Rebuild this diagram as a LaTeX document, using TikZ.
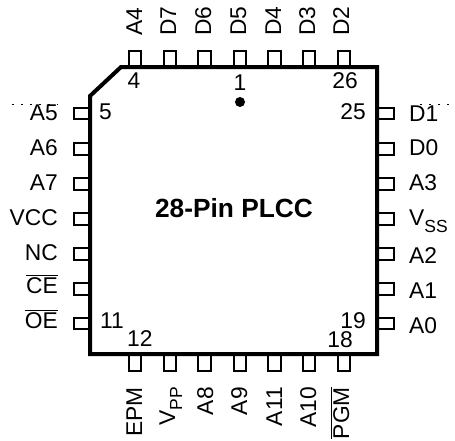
\documentclass[tikz,border=0pt]{standalone}
\usepackage{fontspec}
\setmainfont{Liberation Sans}
\newcommand{\pinsub}[1]{\raisebox{-7pt}{\fontsize{17.5}{17.5}\selectfont #1}}
\tikzset{
  pinbox/.style={draw, line width=2.1pt, fill=white},
  pinlabel/.style={inner sep=0pt, font=\fontsize{22.8}{23}\selectfont},
  vertlabel/.style={pinlabel, rotate=90},
}
\begin{document}
\begin{tikzpicture}[x=1pt, y=-1pt]
    \useasboundingbox (0,0) rectangle (455,440);

    % Pins, top:
    \draw[pinbox] (129,51) rectangle (141,67);
    \draw[pinbox] (164,51) rectangle (176,67);
    \draw[pinbox] (198,51) rectangle (211,67);
    \draw[pinbox] (234,51) rectangle (246,67);
    \draw[pinbox] (268,51) rectangle (281,67);
    \draw[pinbox] (303,51) rectangle (315,67);
    \draw[pinbox] (338,51) rectangle (350,67);
    % Pins, bottom:
    \draw[pinbox] (129,354) rectangle (141,371);
    \draw[pinbox] (164,354) rectangle (176,371);
    \draw[pinbox] (198,354) rectangle (211,371);
    \draw[pinbox] (234,354) rectangle (246,371);
    \draw[pinbox] (268,354) rectangle (281,371);
    \draw[pinbox] (303,354) rectangle (315,371);
    \draw[pinbox] (338,354) rectangle (350,371);
    % Pins, left:
    \draw[pinbox] (74,108) rectangle (90,119);
    \draw[pinbox] (74,143) rectangle (90,155);
    \draw[pinbox] (74,178) rectangle (90,190);
    \draw[pinbox] (74,213) rectangle (90,225);
    \draw[pinbox] (74,248) rectangle (90,260);
    \draw[pinbox] (74,283) rectangle (90,295);
    \draw[pinbox] (74,318) rectangle (90,329);
    % Pins, right:
    \draw[pinbox] (377,108) rectangle (394,119);
    \draw[pinbox] (377,143) rectangle (394,155);
    \draw[pinbox] (377,178) rectangle (394,190);
    \draw[pinbox] (377,213) rectangle (394,225);
    \draw[pinbox] (377,248) rectangle (394,260);
    \draw[pinbox] (377,283) rectangle (394,295);
    \draw[pinbox] (377,318) rectangle (394,329);

    % Package outline:
    \draw[line width=4pt, miter limit=10] (90,96) -- (121,67) -- (377,67) -- (377,354) -- (90,354) -- cycle;
    \fill (240,102) circle (5);

    % Stray dots by the first row:
    \draw[line width=0.5pt, dash pattern=on 2pt off 7pt] (12,104) -- (58,104);
    \draw[line width=0.5pt, dash pattern=on 2pt off 7pt] (420,104) -- (455,104);

    \node[inner sep=0pt, anchor=base, font=\fontsize{26.3}{26}\selectfont\bfseries] (title) at (234,217.5) {28-Pin PLCC};

    % Pin numbers:
    \node[pinlabel, anchor=base] (num1) at (240,90) {1};
    \node[pinlabel, anchor=base] (num4) at (134,88) {4};
    \node[pinlabel, anchor=base] (num26) at (345,88) {26};
    \node[pinlabel, anchor=base west] (num5) at (99,119) {5};
    \node[pinlabel, anchor=base east] (num25) at (366,119) {25};
    \node[pinlabel, anchor=base west] (num11) at (100,328) {11};
    \node[pinlabel, anchor=base west] (num12) at (127,346) {12};
    \node[pinlabel, anchor=base east] (num19) at (366,328) {19};
    \node[pinlabel, anchor=base east] (num18) at (353,347.5) {18};

    % Labels, top:
    \node[vertlabel, anchor=base west] (A4) at (142,36) {A4};
    \node[vertlabel, anchor=base west] (D7) at (176,36) {D7};
    \node[vertlabel, anchor=base west] (D6) at (211,36) {D6};
    \node[vertlabel, anchor=base west] (D5) at (246,36) {D5};
    \node[vertlabel, anchor=base west] (D4) at (281,36) {D4};
    \node[vertlabel, anchor=base west] (D3) at (315,36) {D3};
    \node[vertlabel, anchor=base west] (D2) at (349,36) {D2};
    % Labels, bottom:
    \node[vertlabel, anchor=base east] (EPM) at (142,387) {EPM};
    \node[vertlabel, anchor=base east] (VPP) at (175,387) {V\pinsub{PP}};
    \node[vertlabel, anchor=base east] (A8) at (213,387) {A8};
    \node[vertlabel, anchor=base east] (A9) at (247,387) {A9};
    \node[vertlabel, anchor=base east] (A11) at (282,387) {A11};
    \node[vertlabel, anchor=base east] (A10) at (316,387) {A10};
    \node[vertlabel, anchor=base east] (PGM) at (349,387) {$\overline{\mbox{PGM}}$};
    % Labels, left:
    \node[pinlabel, anchor=base east] (A5) at (58,120) {A5};
    \node[pinlabel, anchor=base east] (A6) at (58,155) {A6};
    \node[pinlabel, anchor=base east] (A7) at (58,190) {A7};
    \node[pinlabel, anchor=base east] (VCC) at (58,225) {VCC};
    \node[pinlabel, anchor=base east] (NC) at (58,260) {NC};
    \node[pinlabel, anchor=base east] (CE) at (58,293) {$\overline{\mbox{CE}}$};
    \node[pinlabel, anchor=base east] (OE) at (58,328) {$\overline{\mbox{OE}}$};
    % Labels, right:
    \node[pinlabel, anchor=base west] (D1) at (409,121) {D1};
    \node[pinlabel, anchor=base west] (D0) at (409,155) {D0};
    \node[pinlabel, anchor=base west] (A3) at (409,190) {A3};
    \node[pinlabel, anchor=base west] (VSS) at (409,225) {V\pinsub{SS}};
    \node[pinlabel, anchor=base west] (A2) at (409,263) {A2};
    \node[pinlabel, anchor=base west] (A1) at (409,298) {A1};
    \node[pinlabel, anchor=base west] (A0) at (409,333) {A0};
\end{tikzpicture}
\end{document}
